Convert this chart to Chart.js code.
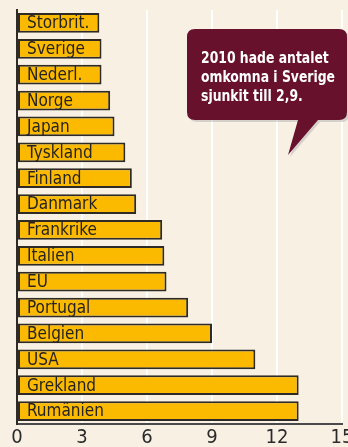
<!DOCTYPE html>
<html>
<head>
<meta charset="utf-8">
<script src="https://cdn.jsdelivr.net/npm/chart.js@4/dist/chart.umd.min.js"></script>
<style>
  html, body { margin: 0; padding: 0; background: #f9f0e4; }
  #wrap { width: 348px; height: 447px; position: relative; }
</style>
</head>
<body>
<div id="wrap"><canvas id="c"></canvas></div>
<script>
// Antal omkomna i trafiken per 100 000 invånare
const countries = ['Storbrit.', 'Sverige', 'Nederl.', 'Norge', 'Japan', 'Tyskland', 'Finland', 'Danmark',
  'Frankrike', 'Italien', 'EU', 'Portugal', 'Belgien', 'USA', 'Grekland', 'Rumänien'];
const deaths = [3.8, 3.9, 3.9, 4.3, 4.5, 5.0, 5.3, 5.5, 6.7, 6.8, 6.9, 7.9, 9.0, 11.0, 13.0, 13.0];
const xTicks = [0, 3, 6, 9, 12, 15];
const calloutLines = ['2010 hade antalet', 'omkomna i Sverige', 'sjunkit till 2,9.'];

const FONT = '"Liberation Sans Narrow", "DejaVu Sans Condensed", "Arial Narrow", sans-serif';

// Country names written inside each bar
const barLabels = {
  id: 'barLabels',
  afterDatasetsDraw(chart) {
    const ctx = chart.ctx;
    const meta = chart.getDatasetMeta(0);
    ctx.save();
    ctx.font = '17px ' + FONT;
    ctx.fillStyle = '#262320';
    ctx.textBaseline = 'middle';
    ctx.textAlign = 'left';
    meta.data.forEach((bar, i) => {
      ctx.fillText(countries[i], chart.chartArea.left + 10, bar.y + 1);
    });
    ctx.restore();
  }
};

// Speech bubble with the note about Sweden
const callout = {
  id: 'callout',
  afterDraw(chart) {
    const ctx = chart.ctx;
    const x0 = 187, y0 = 29, x1 = 347, y1 = 120, r = 8;
    const path = (dx, dy) => {
      ctx.beginPath();
      ctx.moveTo(x0 + r + dx, y0 + dy);
      ctx.lineTo(x1 - r + dx, y0 + dy);
      ctx.quadraticCurveTo(x1 + dx, y0 + dy, x1 + dx, y0 + r + dy);
      ctx.lineTo(x1 + dx, y1 - r + dy);
      ctx.quadraticCurveTo(x1 + dx, y1 + dy, x1 - r + dx, y1 + dy);
      ctx.lineTo(318 + dx, y1 + dy);
      ctx.lineTo(288 + dx, 155 + dy);
      ctx.lineTo(298 + dx, y1 + dy);
      ctx.lineTo(x0 + r + dx, y1 + dy);
      ctx.quadraticCurveTo(x0 + dx, y1 + dy, x0 + dx, y1 - r + dy);
      ctx.lineTo(x0 + dx, y0 + r + dy);
      ctx.quadraticCurveTo(x0 + dx, y0 + dy, x0 + r + dx, y0 + dy);
      ctx.closePath();
    };
    ctx.save();
    path(2, 2);
    ctx.fillStyle = 'rgba(160,160,160,0.4)';
    ctx.fill();
    path(0, 0);
    ctx.fillStyle = '#67112d';
    ctx.fill();
    ctx.fillStyle = '#ffffff';
    ctx.font = 'bold 15px ' + FONT;
    ctx.textBaseline = 'alphabetic';
    ctx.textAlign = 'left';
    // narrow the bold text horizontally so each line fits the bubble
    const w = ctx.measureText(calloutLines[1]).width;
    const sx = Math.min(1, 134 / w);
    calloutLines.forEach((t, i) => {
      ctx.save();
      ctx.translate(201, 63 + i * 19);
      ctx.scale(sx, 1);
      ctx.fillText(t, 0, 0);
      ctx.restore();
    });
    ctx.restore();
  }
};

new Chart(document.getElementById('c'), {
  type: 'bar',
  data: {
    labels: countries,
    datasets: [{
      data: deaths,
      backgroundColor: '#fbba00',
      borderColor: '#2e2a25',
      borderWidth: 2,
      borderSkipped: false,
      categoryPercentage: 1,
      barPercentage: 0.76
    }]
  },
  plugins: [barLabels, callout],
  options: {
    indexAxis: 'y',
    responsive: true,
    maintainAspectRatio: false,
    animation: false,
    layout: { padding: { left: 17, right: 6, top: 10, bottom: 0 } },
    plugins: { legend: { display: false }, tooltip: { enabled: false } },
    scales: {
      x: {
        min: 0, max: 15,
        afterBuildTicks(scale) { scale.ticks = xTicks.map(v => ({ value: v })); },
        afterFit(scale) { scale.height = 23; scale.paddingLeft = 0; scale.paddingRight = 0; },
        grid: { color: '#ffffff', lineWidth: 2, drawTicks: false },
        border: { display: true, color: '#4a4a4a', width: 2 },
        ticks: {
          color: '#2b2b2b',
          font: { family: FONT, size: 20 },
          padding: 2,
          maxRotation: 0,
          autoSkip: false
        }
      },
      y: {
        afterFit(scale) { scale.width = 0; },
        grid: { display: false },
        border: { display: true, color: '#2e2a25', width: 2 },
        ticks: { display: false }
      }
    }
  }
});
</script>
</body>
</html>
